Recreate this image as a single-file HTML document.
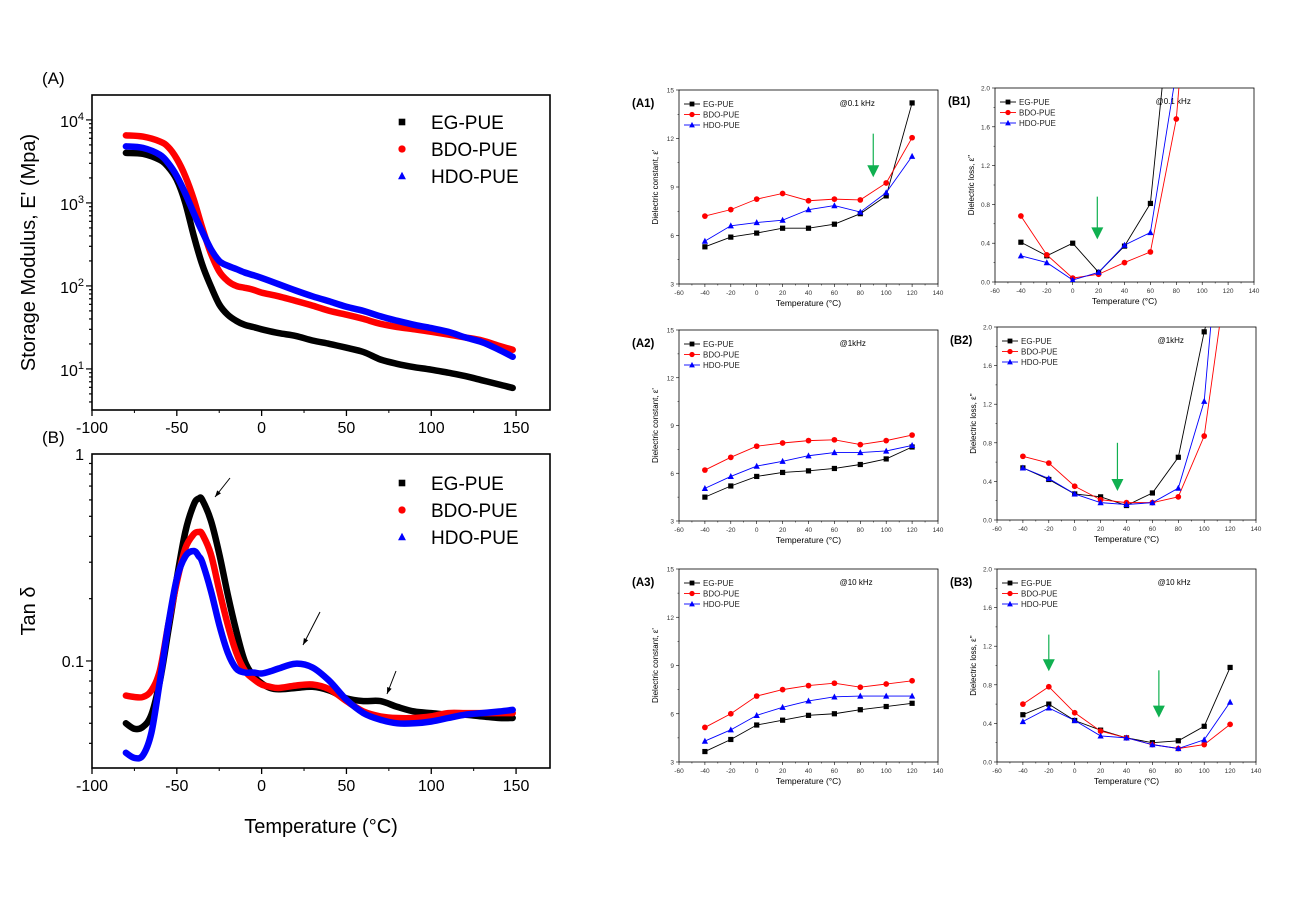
<!DOCTYPE html>
<html><head><meta charset="utf-8">
<style>
body{margin:0;background:#fff;width:1308px;height:905px;overflow:hidden;font-family:"Liberation Sans",Arial,sans-serif}
svg{position:absolute;left:0;top:0}
</style></head>
<body>
<svg id="fig" width="1308" height="905" font-family="Liberation Sans, Arial, sans-serif"></svg>
<script>
// ---- DMA data ----
const dmaTemps = [-80,-70,-60,-55,-50,-45,-40,-35,-30,-25,-20,-15,-10,-5,0,10,20,30,40,50,60,70,80,90,100,110,120,130,140,148];
const modEG  = [4000,3900,3300,2700,1900,1000,400,180,100,60,45,38,34,32,30,27,25,22,20,18,16,13,11.5,10.5,9.8,9,8.2,7.3,6.5,5.9];
const modBDO = [6500,6300,5500,4700,3400,2100,1100,500,250,150,115,100,95,90,83,75,66,58,50,45,40,35,32,30,28,26,24,22,19,17];
const modHDO = [4800,4600,3800,3000,2100,1300,750,450,280,200,175,160,145,135,125,105,88,75,65,56,50,43,38,34,31,28,24,21,17,14];
const tanTemps = [-80,-75,-70,-65,-60,-55,-50,-45,-40,-37,-35,-30,-25,-20,-15,-10,-5,0,5,10,20,30,40,50,60,70,80,90,100,110,120,130,140,148];
const tanEG  = [0.050,0.047,0.048,0.055,0.08,0.14,0.25,0.42,0.57,0.61,0.60,0.48,0.33,0.21,0.14,0.10,0.085,0.078,0.074,0.073,0.074,0.075,0.072,0.066,0.064,0.064,0.060,0.057,0.056,0.055,0.055,0.054,0.053,0.053];
const tanBDO = [0.068,0.067,0.067,0.072,0.09,0.15,0.24,0.35,0.41,0.42,0.41,0.33,0.22,0.15,0.11,0.09,0.082,0.077,0.075,0.074,0.076,0.077,0.073,0.064,0.057,0.054,0.053,0.053,0.054,0.056,0.056,0.056,0.056,0.056];
const tanHDO = [0.036,0.034,0.035,0.045,0.08,0.15,0.25,0.32,0.34,0.32,0.30,0.22,0.15,0.11,0.092,0.088,0.088,0.087,0.089,0.092,0.097,0.093,0.08,0.065,0.056,0.052,0.050,0.050,0.051,0.053,0.055,0.056,0.057,0.058];
// ---- dielectric data ----
const dTemps = [-40,-20,0,20,40,60,80,100,120];
const a1EG=[5.3,5.9,6.15,6.45,6.45,6.7,7.35,8.45,14.2];
const a1BDO=[7.2,7.6,8.25,8.6,8.15,8.25,8.2,9.25,12.05];
const a1HDO=[5.65,6.6,6.8,6.95,7.6,7.85,7.45,8.65,10.9];
const b1EG=[0.41,0.27,0.40,0.10,0.37,0.81,3.45,null,null];
const b1BDO=[0.68,0.28,0.04,0.08,0.20,0.31,1.68,4.9,null];
const b1HDO=[0.27,0.20,0.02,0.10,0.38,0.51,2.17,null,null];
const a2EG=[4.5,5.2,5.8,6.05,6.15,6.3,6.55,6.9,7.65];
const a2BDO=[6.2,7.0,7.7,7.9,8.05,8.1,7.8,8.05,8.4];
const a2HDO=[5.05,5.8,6.45,6.75,7.1,7.3,7.3,7.4,7.75];
const b2EG=[0.54,0.42,0.27,0.24,0.15,0.28,0.65,1.95,3.0];
const b2BDO=[0.66,0.59,0.35,0.21,0.18,0.18,0.24,0.87,2.8];
const b2HDO=[0.54,0.43,0.27,0.18,0.16,0.18,0.33,1.23,4.3];
const a3EG=[3.65,4.4,5.3,5.6,5.9,6.0,6.25,6.45,6.65];
const a3BDO=[5.15,6.0,7.1,7.5,7.75,7.9,7.65,7.85,8.05];
const a3HDO=[4.3,5.0,5.9,6.4,6.8,7.05,7.1,7.1,7.1];
const b3EG=[0.49,0.60,0.43,0.33,0.25,0.20,0.22,0.37,0.98];
const b3BDO=[0.60,0.78,0.51,0.32,0.25,0.18,0.14,0.18,0.39];
const b3HDO=[0.42,0.56,0.43,0.27,0.25,0.18,0.14,0.23,0.62];
const smallXTicks=[-60,-40,-20,0,20,40,60,80,100,120,140];
const epsTicks=[3,6,9,12,15];
const lossTicks=[0.0,0.4,0.8,1.2,1.6,2.0];
const bigXTicks=[-100,-50,0,50,100,150];
const seriesNames=['EG-PUE','BDO-PUE','HDO-PUE'];
const colors=['#000','#f00','#00f'];

const NS='http://www.w3.org/2000/svg';
const svg=document.getElementById('fig');
function mk(tag,attrs,parent,text){const e=document.createElementNS(NS,tag);for(const k in attrs)e.setAttribute(k,attrs[k]);if(text!==undefined)e.textContent=text;(parent||svg).appendChild(e);return e;}
let clipId=0;

function marker(g,type,x,y,c,s){
  let e;
  if(type===0){e=mk('rect',{x:x-s,y:y-s,width:2*s,height:2*s,fill:c},g);}
  else if(type===1){e=mk('circle',{cx:x,cy:y,r:s*1.1,fill:c},g);}
  else{e=mk('polygon',{points:`${x},${y-s*1.3} ${x-s*1.2},${y+s} ${x+s*1.2},${y+s}`,fill:c},g);}
  
  
}
function smoothPath(pts){
  let d='M'+pts[0][0].toFixed(1)+','+pts[0][1].toFixed(1);
  for(let i=0;i<pts.length-1;i++){
    const p0=pts[Math.max(0,i-1)],p1=pts[i],p2=pts[i+1],p3=pts[Math.min(pts.length-1,i+2)];
    const c1=[p1[0]+(p2[0]-p0[0])/6,p1[1]+(p2[1]-p0[1])/6];
    const c2=[p2[0]-(p3[0]-p1[0])/6,p2[1]-(p3[1]-p1[1])/6];
    d+=` C${c1[0].toFixed(1)},${c1[1].toFixed(1)} ${c2[0].toFixed(1)},${c2[1].toFixed(1)} ${p2[0].toFixed(1)},${p2[1].toFixed(1)}`;
  }
  return d;
}

// ---------- small dielectric panels ----------
function smallPanel(id,label,freq,box,yTicks,yTitle,sets,arrows){
  const [L,T,R,B]=box;
  const g=mk('g',{},svg);
  
  
  const xs=v=>L+(v+60)/200*(R-L);
  const ymin=yTicks[0],ymax=yTicks[yTicks.length-1];
  const ys=v=>B-(v-ymin)/(ymax-ymin)*(B-T);
  const cid='clip'+(clipId++);
  const cp=mk('clipPath',{id:cid},g);mk('rect',{x:L,y:T,width:R-L,height:B-T},cp);
  const frame=mk('rect',{x:L,y:T,width:R-L,height:B-T,fill:'none',stroke:'#000','stroke-width':0.8},g);
  
  smallXTicks.forEach((v,i)=>{
    mk('line',{x1:xs(v),y1:B,x2:xs(v),y2:B+3,stroke:'#000','stroke-width':0.6},g);
    if(i<smallXTicks.length-1)mk('line',{x1:xs(v+10),y1:B,x2:xs(v+10),y2:B+1.5,stroke:'#000','stroke-width':0.5},g);
    const t=mk('text',{x:xs(v),y:B+11,'font-size':6.5,'text-anchor':'middle',fill:'#333'},g,String(v));
    
  });
  yTicks.forEach((v,i)=>{
    mk('line',{x1:L-3,y1:ys(v),x2:L,y2:ys(v),stroke:'#000','stroke-width':0.6},g);
    if(i<yTicks.length-1){const m=(v+yTicks[i+1])/2;mk('line',{x1:L-1.5,y1:ys(m),x2:L,y2:ys(m),stroke:'#000','stroke-width':0.5},g);}
    const lab=Number.isInteger(yTicks[1]-yTicks[0])?String(v):v.toFixed(1);
    const t=mk('text',{x:L-5,y:ys(v)+2.5,'font-size':6.5,'text-anchor':'end',fill:'#333'},g,lab);
    
  });
  const xt=mk('text',{x:(L+R)/2,y:B+22,'font-size':8.5,'text-anchor':'middle'},g,'Temperature (°C)');
  
  const cy=(T+B)/2;
  const yt=mk('text',{x:L-21,y:cy,'font-size':8,'text-anchor':'middle',transform:`rotate(-90 ${L-21} ${cy})`},g,yTitle);
  
  const pl=mk('text',{x:L-47,y:T+17,'font-size':11.5,'font-weight':'bold'},g,label);
  
  const fq=mk('text',{x:L+(R-L)*0.62,y:T+16,'font-size':8},g,freq);
  
  const dg=mk('g',{'clip-path':`url(#${cid})`},g);
  sets.forEach((vals,si)=>{
    const pts=[];dTemps.forEach((t,i)=>{if(vals[i]!==null)pts.push([xs(t),ys(vals[i])]);});
    const pl2=mk('polyline',{points:pts.map(p=>p.join(',')).join(' '),fill:'none',stroke:colors[si],'stroke-width':0.9},dg);
    
    
    pts.forEach(p=>marker(dg,si,p[0],p[1],colors[si],2.6));
  });
  seriesNames.forEach((n,si)=>{
    const ly=T+14+si*10.5, lx=L+13;
    const lg=mk('g',{},g);
    
    
    mk('line',{x1:lx-8,y1:ly,x2:lx+8,y2:ly,stroke:colors[si],'stroke-width':0.9},lg);
    marker(lg,si,lx,ly,colors[si],2.4);
    mk('text',{x:lx+11,y:ly+3,'font-size':8,fill:'#222'},lg,n);
  });
  arrows.forEach(a=>{
    const ag=mk('g',{},g);
    
    
    const x=xs(a[0]),y1=ys(a[1]),y2=ys(a[2]);
    mk('line',{x1:x,y1:y1,x2:x,y2:y2-10,stroke:'#10b050','stroke-width':1.2},ag);
    mk('polygon',{points:`${x-6},${y2-12} ${x+6},${y2-12} ${x},${y2}`,fill:'#10b050'},ag);
  });
}
const epsTitle='Dielectric constant, ε\'';
const lossTitle='Dielectric loss, ε\'\'';
smallPanel('a1','(A1)','@0.1 kHz',[679,90,938,284],epsTicks,epsTitle,[a1EG,a1BDO,a1HDO],[[90,12.3,9.6]]);
smallPanel('b1','(B1)','@0.1 kHz',[995,88,1254,282],lossTicks,lossTitle,[b1EG,b1BDO,b1HDO],[[19,0.88,0.44]]);
smallPanel('a2','(A2)','@1kHz',[679,330,938,521],epsTicks,epsTitle,[a2EG,a2BDO,a2HDO],[]);
smallPanel('b2','(B2)','@1kHz',[997,327,1256,520],lossTicks,lossTitle,[b2EG,b2BDO,b2HDO],[[33,0.8,0.3]]);
smallPanel('a3','(A3)','@10 kHz',[679,569,938,762],epsTicks,epsTitle,[a3EG,a3BDO,a3HDO],[]);
smallPanel('b3','(B3)','@10 kHz',[997,569,1256,762],lossTicks,lossTitle,[b3EG,b3BDO,b3HDO],[[-20,1.32,0.94],[65,0.95,0.46]]);

// ---------- big log panels ----------
function bigPanel(id,label,box,logMin,logMax,majors,majorLabel,yTitle,sets,temps,legendY){
  const [L,T,R,B]=box;
  const g=mk('g',{},svg);
  
  
  const xs=v=>L+(v+100)/270*(R-L);
  const ys=v=>B-(Math.log10(v)-logMin)/(logMax-logMin)*(B-T);
  const frame=mk('rect',{x:L,y:T,width:R-L,height:B-T,fill:'none',stroke:'#000','stroke-width':1.6},g);
  
  bigXTicks.forEach(v=>{
    mk('line',{x1:xs(v),y1:B,x2:xs(v),y2:B+6,stroke:'#000','stroke-width':1.3},g);
    if(xs(v+25)<R-2)mk('line',{x1:xs(v+25),y1:B,x2:xs(v+25),y2:B+3,stroke:'#000','stroke-width':1},g);
    const t=mk('text',{x:xs(v),y:B+23,'font-size':16,'text-anchor':'middle'},g,String(v));
    
  });
  for(let d=Math.floor(logMin);d<Math.ceil(logMax);d++){
    for(let m=1;m<10;m++){
      const v=m*Math.pow(10,d);const lv=Math.log10(v);
      if(lv<logMin||lv>logMax)continue;
      mk('line',{x1:L-(m===1?6:3),y1:ys(v),x2:L,y2:ys(v),stroke:'#000','stroke-width':1.2},g);
    }
  }
  majors.forEach((v,i)=>{majorLabel(g,L,ys(v),v,i);});
  const cy=(T+B)/2;
  const yt=mk('text',{x:L-57,y:cy,'font-size':20,'text-anchor':'middle',transform:`rotate(-90 ${L-57} ${cy})`},g,yTitle);
  
  const pl=mk('text',{x:42,y:T-11,'font-size':17},g,label);
  
  sets.forEach((vals,si)=>{
    const pts=temps.map((t,i)=>[xs(t),ys(vals[i])]);
    const p=mk('path',{d:smoothPath(pts),fill:'none',stroke:colors[si],'stroke-width':6.5,'stroke-linejoin':'round','stroke-linecap':'round'},g);
    
    
  });
  seriesNames.forEach((n,si)=>{
    const ly=legendY+si*27;
    const lg=mk('g',{},g);
    
    
    marker(lg,si,402,ly,colors[si],3.3);
    mk('text',{x:431,y:ly+7,'font-size':19},lg,n);
  });
}
bigPanel('storage-modulus','(A)',[92,95,550,410],Math.log10(3.2),4.3,[10,100,1000,10000],
  (g,L,y,v,i)=>{const t=mk('text',{x:L-8,y:y+7,'font-size':16,'text-anchor':'end'},g);
    
    mk('tspan',{},t,'10');mk('tspan',{dy:-7,'font-size':11},t,String(i+1));},
  'Storage Modulus, E\' (Mpa)',[modEG,modBDO,modHDO],dmaTemps,122);
bigPanel('tan-delta','(B)',[92,454,550,768],Math.log10(0.0304),0,[0.1,1],
  (g,L,y,v,i)=>{const t=mk('text',{x:L-8,y:y+6,'font-size':16,'text-anchor':'end'},g,String(v));
    },
  'Tan δ',[tanEG,tanBDO,tanHDO],tanTemps,483);
const xt=mk('text',{x:321,y:833,'font-size':20,'text-anchor':'middle'},svg,'Temperature (°C)');


[[230,478,215,497],[320,612,303,645],[396,671,387,694]].forEach(a=>{
  const ag=mk('g',{},svg);
  
  
  mk('line',{x1:a[0],y1:a[1],x2:a[2],y2:a[3],stroke:'#000','stroke-width':1},ag);
  const ang=Math.atan2(a[3]-a[1],a[2]-a[0]);const s=7;
  const p1=[a[2]-s*Math.cos(ang-0.35),a[3]-s*Math.sin(ang-0.35)],p2=[a[2]-s*Math.cos(ang+0.35),a[3]-s*Math.sin(ang+0.35)];
  mk('polygon',{points:`${a[2]},${a[3]} ${p1} ${p2}`,fill:'#000'},ag);
});
</script>
</body></html>
